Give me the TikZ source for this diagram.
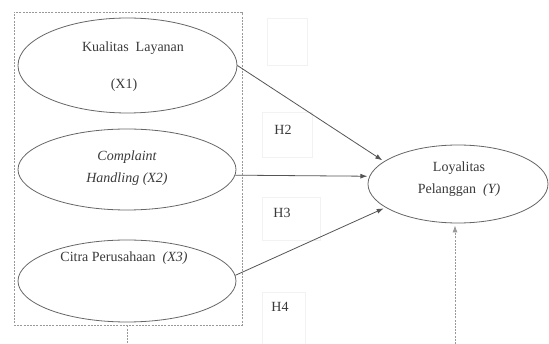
\documentclass[tikz,border=0pt]{standalone}
\usepackage{fontspec}
\setmainfont{Liberation Serif}
\usetikzlibrary{arrows.meta,shapes.geometric}
\definecolor{lineC}{HTML}{555555}
\definecolor{ellC}{HTML}{666666}
\definecolor{textC}{HTML}{3A3A3A}
\begin{document}
\begin{tikzpicture}[x=1pt,y=-1pt,
  every node/.style={text=textC,font=\fontsize{14}{22}\selectfont},
  var/.style={draw=ellC,line width=0.8pt,ellipse,inner sep=0pt},
  faint/.style={draw=gray!10,line width=0.6pt,rectangle,inner sep=0pt},
  lbl/.style={inner sep=0pt,align=center},
  conn/.style={draw=lineC,line width=0.8pt,-{Latex[length=7pt,width=5pt]},shorten >=2pt},
  dashln/.style={draw=gray!80,line width=0.8pt,dash pattern=on 2pt off 1.2pt}]
\useasboundingbox[fill=white] (0,0) rectangle (549,344);
% outer dashed box
\node[dashln,rectangle,minimum width=228pt,minimum height=313pt,inner sep=0pt] (box) at (128,168.5) {};
% faint boxes
\node[faint,minimum width=40pt,minimum height=47pt] (fb0) at (287,41.5) {};
\node[faint,minimum width=50pt,minimum height=45pt] (fb2) at (287,134.5) {};
\node[faint,minimum width=58pt,minimum height=43pt] (fb3) at (291,218.5) {};
\node[faint,minimum width=43pt,minimum height=52pt] (fb4) at (283.5,318) {};
% ellipses
\node[var,minimum width=219pt,minimum height=95pt] (e1) at (127.5,65.5) {};
\node[var,minimum width=218pt,minimum height=81pt] (e2) at (127,169.5) {};
\node[var,minimum width=218pt,minimum height=82pt] (e3) at (127,281) {};
\node[var,minimum width=180pt,minimum height=78pt] (Y) at (458,184) {};
% texts
\node[lbl] (t1a) at (133,48) {Kualitas\ \ Layanan};
\node[lbl] (t1b) at (124,85) {(X1)};
\node[lbl] (t2) at (127,168) {\itshape Complaint\\\itshape Handling (X2)};
\node[lbl] (t3) at (124,258) {Citra Perusahaan\ \ \textit{(X3)}};
\node[lbl] (tY) at (459,179) {Loyalitas\\Pelanggan\ \ \textit{(Y)}};
\node[lbl] (h2) at (283,130) {H2};
\node[lbl] (h3) at (282,213) {H3};
\node[lbl] (h4) at (280,307) {H4};
% connectors
\draw[conn] (e1.east) -- (Y.163);
\draw[conn] (e2.-3.7) -- (Y.175.5);
\draw[conn] (e3.3.1) -- (Y.198);
\coordinate (bl) at (127,344);
\coordinate (br) at (455,344);
\draw[dashln] (box.south -| bl) -- (bl);
\draw[dashln,-{Latex[length=7pt,width=5pt]},shorten >=2pt] (br) -- (br |- Y.south);
\end{tikzpicture}
\end{document}
